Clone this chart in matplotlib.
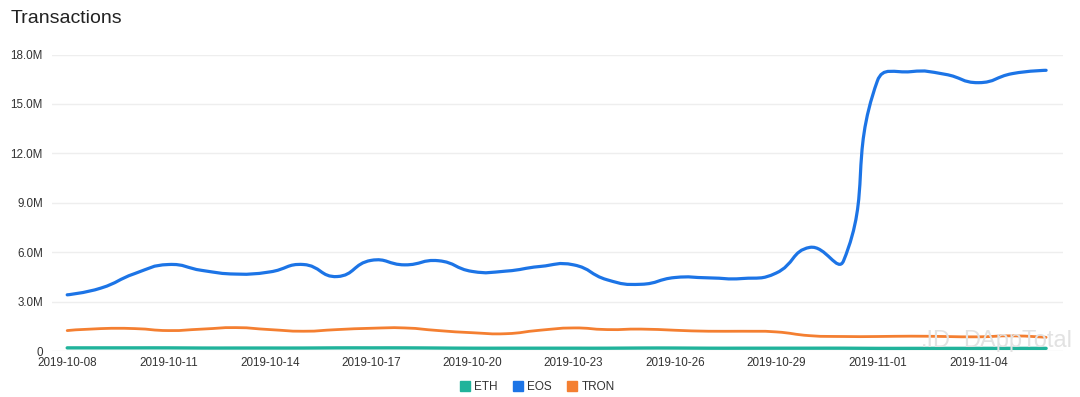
import numpy as np
import pandas as pd
import matplotlib
matplotlib.use("Agg")
import matplotlib.pyplot as plt
from matplotlib.lines import Line2D
from matplotlib.path import Path
from matplotlib.patches import PathPatch

# ---- data ----
dates = pd.date_range("2019-10-08", "2019-11-06", freq="D")
eos = [3.41, 3.82, 4.70, 5.25, 4.89, 4.67, 4.80, 5.25, 4.52, 5.50,
       5.23, 5.48, 4.83, 4.85, 5.13, 5.23, 4.32, 4.05, 4.46, 4.44,
       4.40, 4.73, 6.29, 5.48, 16.39, 16.96, 16.80, 16.29, 16.84, 17.04]
tron = [1.24, 1.36, 1.36, 1.24, 1.33, 1.42, 1.30, 1.20, 1.30, 1.38,
        1.40, 1.24, 1.11, 1.05, 1.26, 1.40, 1.30, 1.33, 1.26, 1.20,
        1.20, 1.16, 0.93, 0.88, 0.88, 0.90, 0.88, 0.86, 0.92, 0.83]
eth = [0.19, 0.19, 0.19, 0.19, 0.18, 0.18, 0.18, 0.18, 0.19, 0.19,
       0.19, 0.18, 0.17, 0.17, 0.17, 0.17, 0.17, 0.18, 0.18, 0.17,
       0.17, 0.17, 0.17, 0.17, 0.16, 0.16, 0.16, 0.16, 0.16, 0.16]
series_names = ["ETH", "EOS", "TRON"]
series_colors = ["#21b39b", "#1c74e6", "#f47f31"]
yticks = [0, 3e6, 6e6, 9e6, 12e6, 15e6, 18e6]
ytick_labels = ["0", "3.0M", "6.0M", "9.0M", "12.0M", "15.0M", "18.0M"]


def smooth_path(ax, x, y, smooth=0.5):
    """Bezier smoothing (as in the original chart library) computed in display space."""
    pts = ax.transData.transform(np.column_stack([x, y]))
    n = len(pts)
    verts = [pts[0]]
    codes = [Path.MOVETO]
    cps = []
    for k in range(n):
        p = pts[k]
        if k == 0 or k == n - 1:
            cps.append((p, p))
            continue
        prev, nxt = pts[k - 1], pts[k + 1]
        v = nxt - prev
        d0 = np.hypot(*(p - prev))
        d1 = np.hypot(*(nxt - p))
        r = d1 / (d0 + d1)
        cp1 = p + v * smooth * r
        cp0 = p - v * smooth * (1 - r)
        cps.append((cp0, cp1))
    for k in range(1, n):
        verts += [cps[k - 1][1], cps[k][0], pts[k]]
        codes += [Path.CURVE4] * 3
    verts = ax.transData.inverted().transform(np.array(verts))
    return Path(verts, codes)


plt.rcParams["font.family"] = ["Liberation Sans", "DejaVu Sans"]

fig = plt.figure(figsize=(10.8, 3.97), dpi=100)
ax = fig.add_axes([52 / 1080, 1 - 351 / 397, (1063 - 52) / 1080, (351 - 54.5) / 397])
ax.set_xlim(-0.45, 29.5)
ax.set_ylim(0, 18e6)

idx = np.arange(len(dates))
data = {"ETH": np.array(eth) * 1e6, "EOS": np.array(eos) * 1e6, "TRON": np.array(tron) * 1e6}
widths = {"ETH": 2.4, "EOS": 2.3, "TRON": 2.0}
zorders = {"ETH": 3, "EOS": 4, "TRON": 3}
for name, col in zip(series_names, series_colors):
    path = smooth_path(ax, idx, data[name])
    ax.add_patch(PathPatch(path, facecolor="none", edgecolor=col, lw=widths[name],
                           capstyle="round", joinstyle="round", zorder=zorders[name]))

ax.set_yticks(yticks)
ax.set_yticklabels(ytick_labels)
tick_idx = idx[::3]
ax.set_xticks(tick_idx)
ax.set_xticklabels([dates[i].strftime("%Y-%m-%d") for i in tick_idx])
ax.grid(axis="y", color="#eeeeee", lw=1)
ax.set_axisbelow(True)
for s in ax.spines.values():
    s.set_visible(False)
ax.tick_params(axis="both", length=0, labelsize=8.4, colors="#333333")
ax.tick_params(axis="y", pad=6.5)
ax.tick_params(axis="x", pad=4)

# watermark
fig.text(963 / 1080, 1 - 341 / 397, "DAppTotal", fontsize=17, color="#e2e2e2",
         va="center", ha="left", zorder=0)
fig.text(921 / 1080, 1 - 341 / 397, ".ID", fontsize=17, color="#e2e2e2",
         va="center", ha="left", zorder=0)

fig.text(11 / 1080, 1 - 22.7 / 397, "Transactions", fontsize=14, color="#222222",
         va="baseline", ha="left")

handles = [Line2D([], [], ls="none", marker="s", markersize=6.5, color=c) for c in series_colors]
fig.legend(handles, series_names, loc="center", bbox_to_anchor=(537 / 1080, 1 - 387 / 397),
           ncol=3, frameon=False, fontsize=8.5, handletextpad=0.3, columnspacing=1.2,
           handlelength=1.0, labelcolor="#333333")

fig.savefig("out.png", dpi=100, facecolor="white")
